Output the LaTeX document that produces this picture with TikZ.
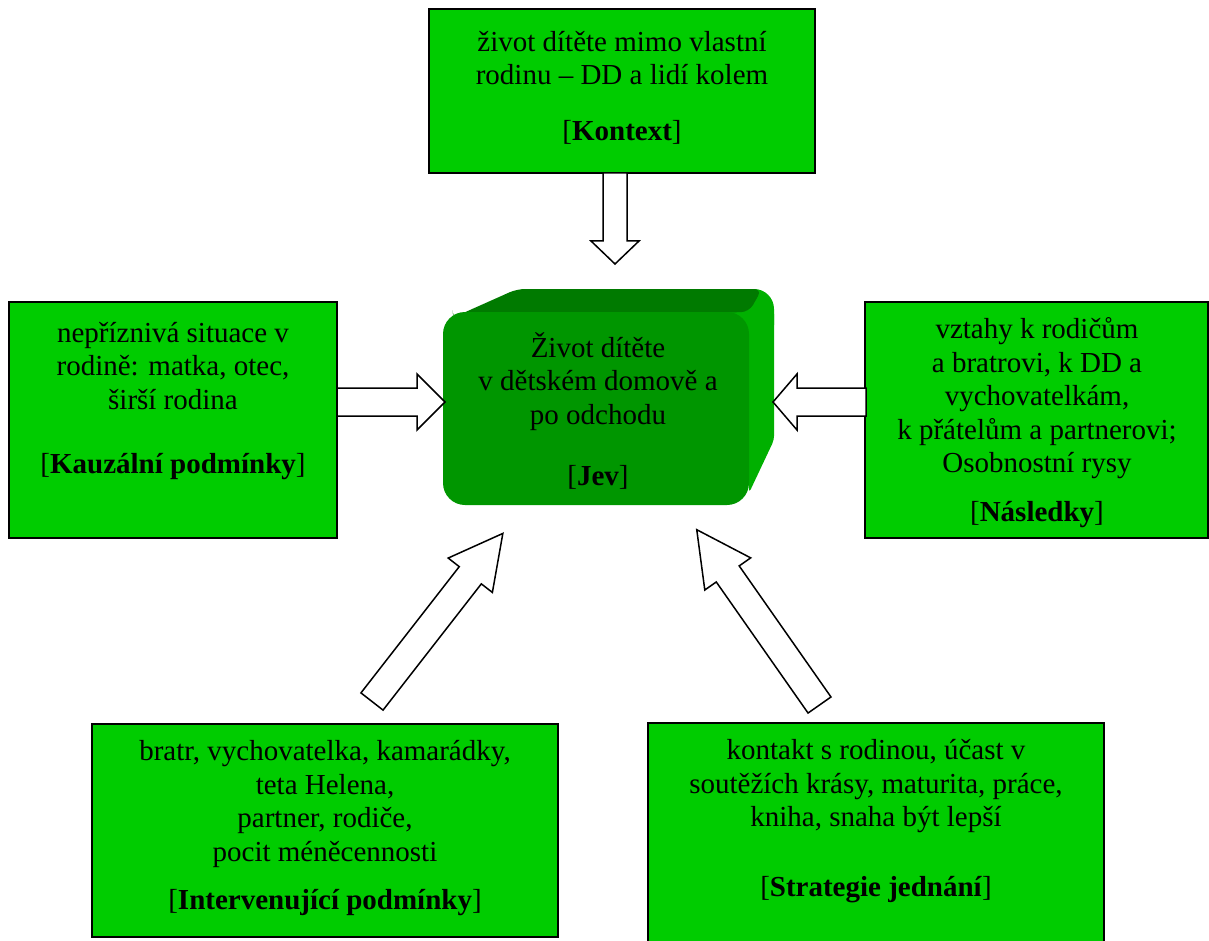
\documentclass[tikz,border=0pt]{standalone}
\usepackage{fontspec}
\setmainfont{Liberation Serif}

\definecolor{boxgreen}{RGB}{0,204,0}
\definecolor{jevfront}{RGB}{0,150,0}
\definecolor{jevtop}{RGB}{0,122,0}
\definecolor{jevside}{RGB}{0,176,0}

% block arrow: start, angle, length, head length, half shaft width
\newcommand{\fatarrow}[5]{%
  \draw[arrowline, shift={(#1)}, rotate=#2]
    (0,#5) -- (#3-#4,#5) -- (#3-#4,2*#5) -- (#3,0)
    -- (#3-#4,-2*#5) -- (#3-#4,-#5) -- (0,-#5) -- cycle;}

\begin{document}
\begin{tikzpicture}[
    x=1pt, y=-1pt,
    box/.style={draw, line width=1.6pt, fill=boxgreen, inner sep=0pt},
    txt/.style={align=center, inner sep=0pt},
    arrowline/.style={draw, fill=white, line width=1.5pt, line join=miter},
    every node/.style={font=\fontsize{29}{33.5}\selectfont}
]
\useasboundingbox (0,0) rectangle (1209,941);

% Boxes
\node[box, minimum width=386, minimum height=164] (kontext) at (622,91) {};
\node[box, minimum width=328, minimum height=236] (kauzalni) at (173,420) {};
\node[box, minimum width=343, minimum height=236] (nasledky) at (1036.5,420) {};
\node[box, minimum width=466, minimum height=213] (interv) at (325,830.5) {};
\node[box, minimum width=456, minimum height=221] (strategie) at (876,833.5) {};

% Jev (3D block)
\fill[jevside, rounded corners=20] (700,289) -- (774,289) -- (774,345) -- (700,345) -- cycle;
\fill[jevside, rounded corners=4] (749,310) -- (774,310) -- (774,440)
  -- (749,493) -- cycle;
\fill[jevtop, rounded corners=8] (452,318) -- (517,289) -- (762,289)
  -- (749,312) -- (452,318) -- cycle;
\node[fill=jevfront, rounded corners=22, minimum width=306, minimum height=193,
  inner sep=0pt] (jev) at (596,408.5) {};

% Texts
\node[txt] (kontextT) at (622,58) {život dítěte mimo vlastní\\rodinu – DD a lidí kolem};
\node[txt] (kontextL) at (622,132) {[\textbf{Kontext}]};

\node[txt] (kauzalniT) at (173,366) {nepříznivá situace v\\rodině: matka, otec,\\širší rodina};
\node[txt] (kauzalniL) at (173,467) {[\textbf{Kauzální podmínky}]};

\node[txt] (jevT) at (598,381.5) {Život dítěte\\v dětském domově a\\po odchodu};
\node[txt] (jevL) at (598,477) {[\textbf{Jev}]};

\node[txt] (nasledkyT) at (1037,398.5) {vztahy k rodičům\\a bratrovi, k DD a\\vychovatelkám,\\k přátelům a partnerovi;\\Osobnostní rysy};
\node[txt] (nasledkyL) at (1037,515) {[\textbf{Následky}]};

\node[txt] (intervT) at (325,804) {bratr, vychovatelka, kamarádky,\\teta Helena,\\partner, rodiče,\\pocit méněcennosti};
\node[txt] (intervL) at (325,903) {[\textbf{Intervenující podmínky}]};

\node[txt] (strategieT) at (876,786.5) {kontakt s rodinou, účast v\\soutěžích krásy, maturita, práce,\\kniha, snaha být lepší};
\node[txt] (strategieL) at (876,890) {[\textbf{Strategie jednání}]};

% Arrows
\coordinate (kontextOut) at (615,173);
\coordinate (kauzalniOut) at (337,402);
\coordinate (nasledkyOut) at (866,402);
\coordinate (intervOut) at (372,701.5);
\coordinate (strategieOut) at (819.5,705);

\fatarrow{kontextOut}{-90}{91}{23}{12}
\fatarrow{kauzalniOut}{0}{108}{28}{14}
\fatarrow{nasledkyOut}{180}{93}{24}{14}
\fatarrow{intervOut}{52.1}{213}{53}{14}
\fatarrow{strategieOut}{125}{214}{54}{14}

\end{tikzpicture}
\end{document}
